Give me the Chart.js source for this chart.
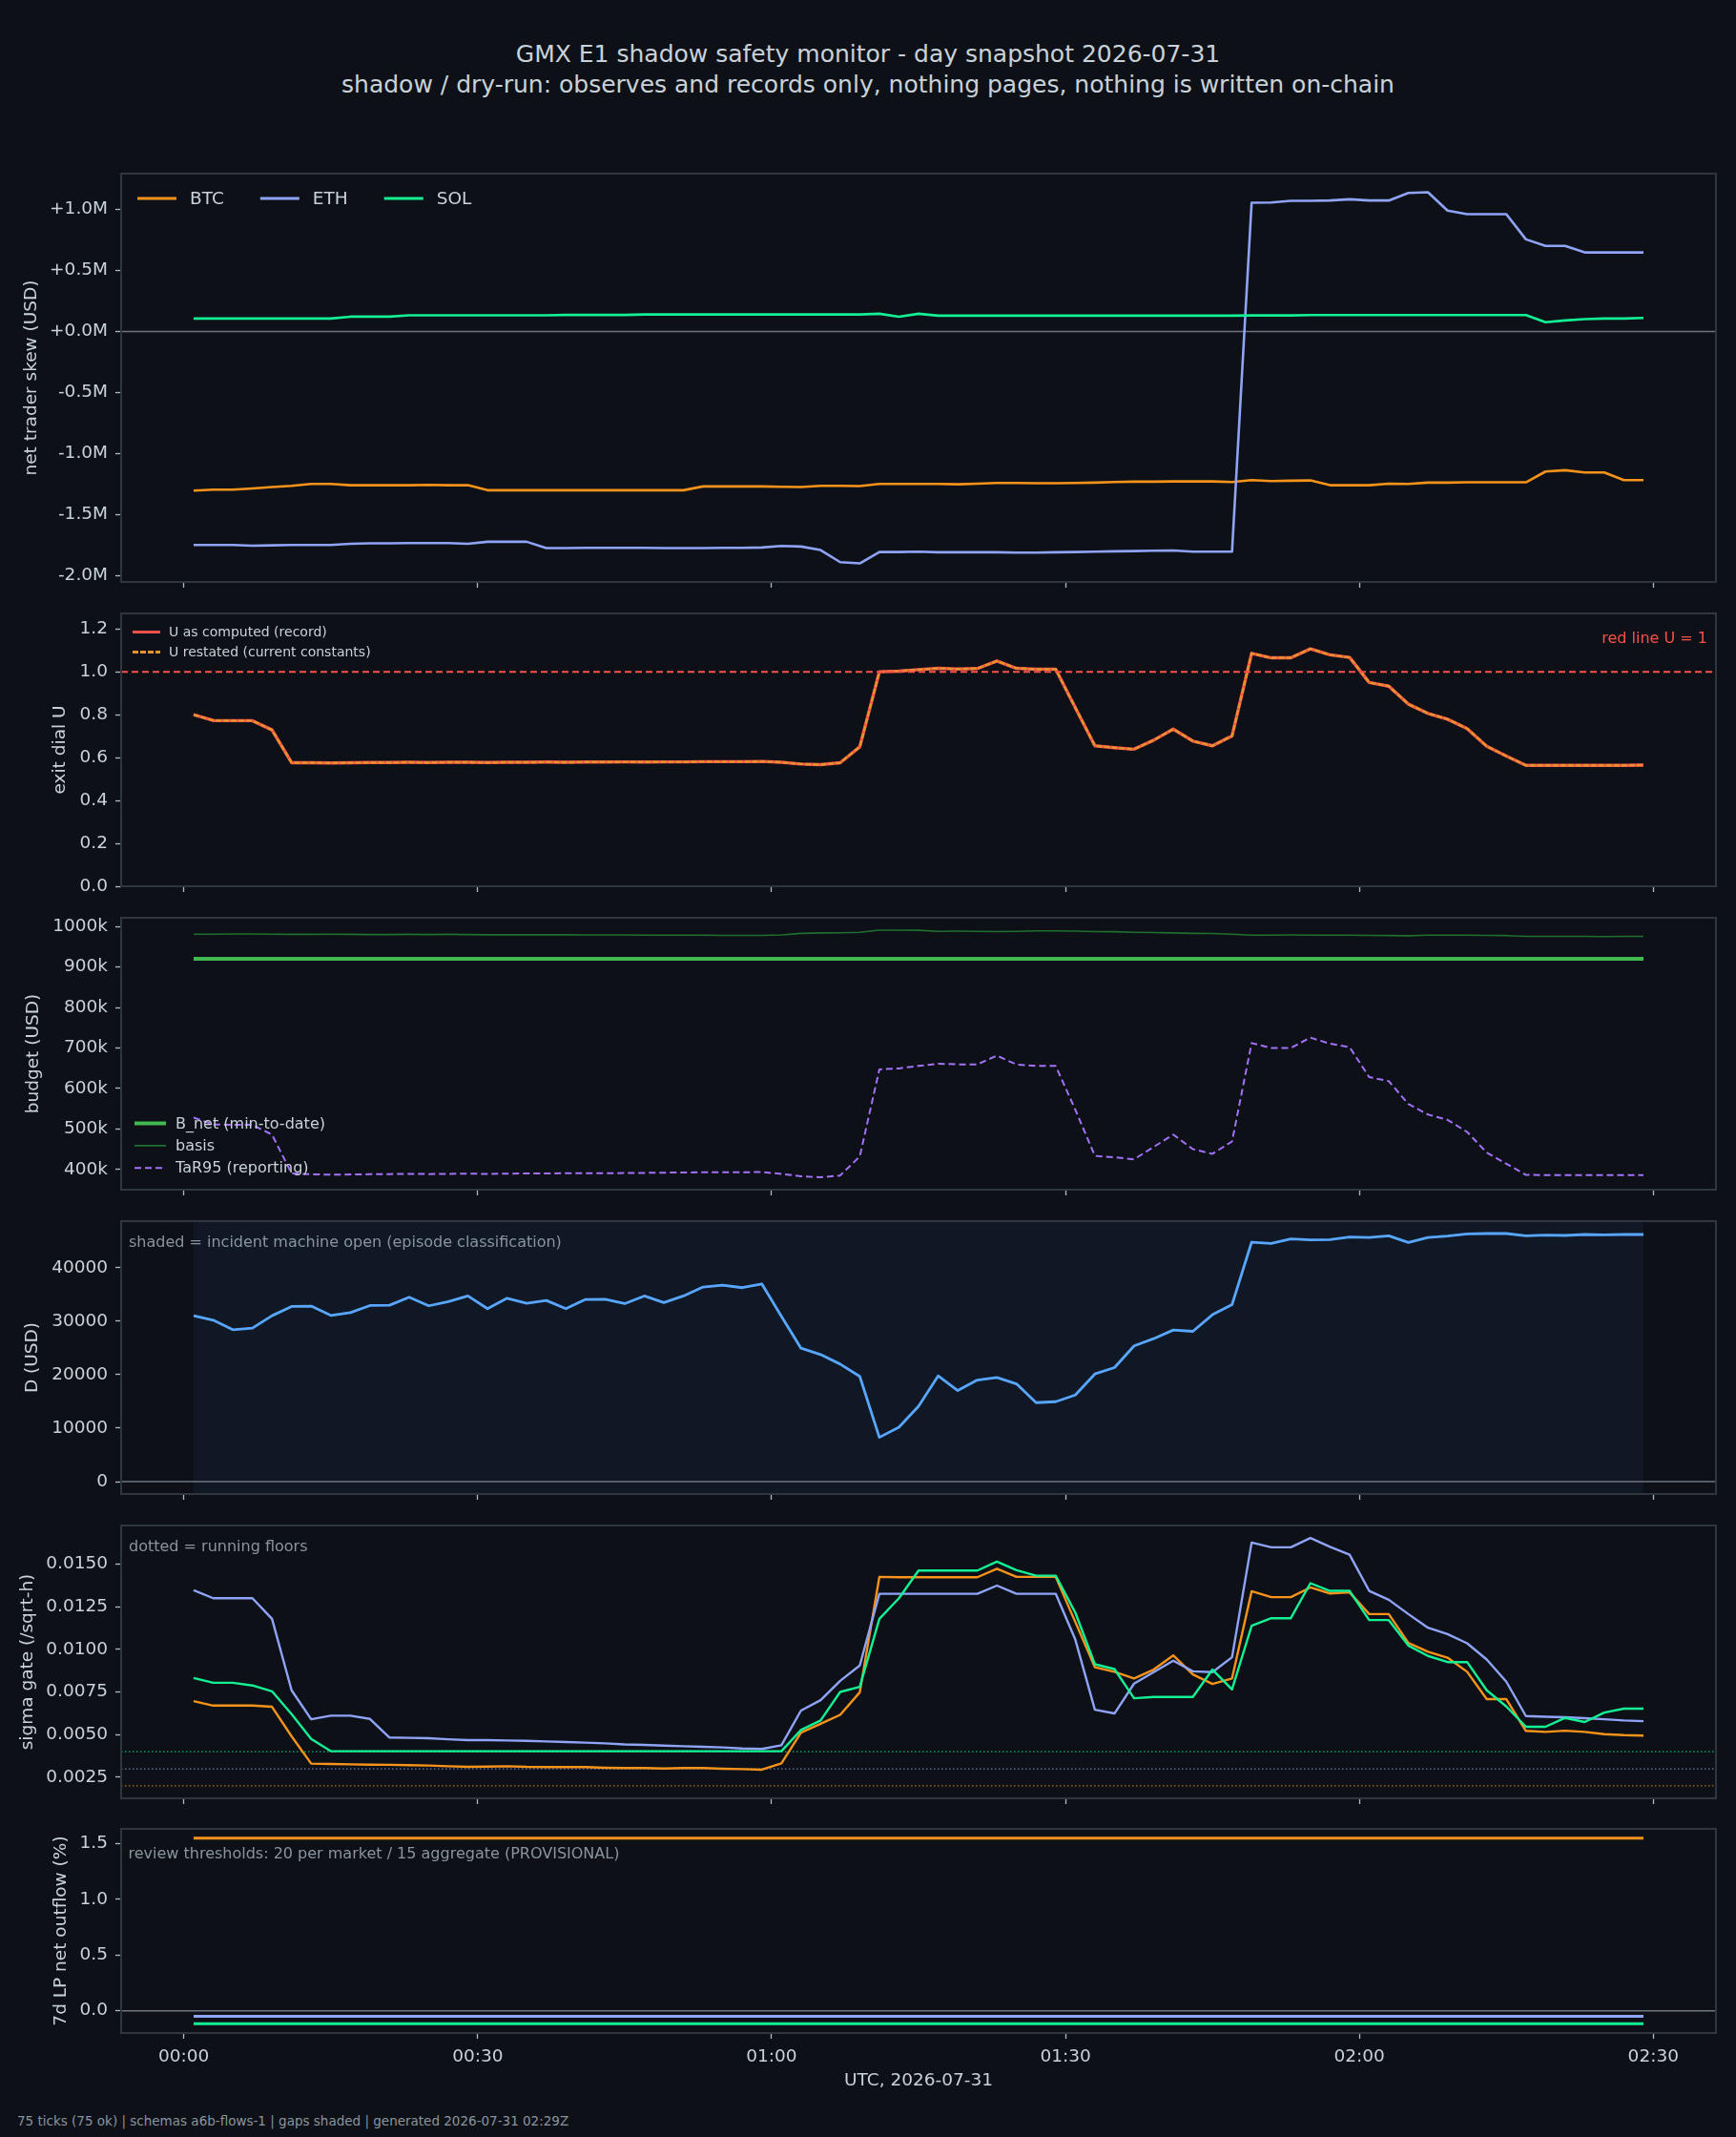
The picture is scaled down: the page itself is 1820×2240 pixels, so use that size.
<!DOCTYPE html>
<html><head><meta charset="utf-8">
<script src="https://cdn.jsdelivr.net/npm/chart.js@4.4.1/dist/chart.umd.min.js"></script>
<style>
html,body{margin:0;padding:0;background:#0d1117;}
#wrap{position:relative;width:1820px;height:2240px;background:#0d1117;overflow:hidden;font-family:"DejaVu Sans",sans-serif;}
canvas{position:absolute;left:0;}
.t{position:absolute;left:0;width:1820px;text-align:center;color:#c9d1d9;font-size:25px;line-height:30px;white-space:nowrap;}
#foot{position:absolute;left:18px;top:2215px;font-size:13.5px;line-height:16px;color:#8b949e;white-space:nowrap;}
</style></head><body>
<div id="wrap">
<div class="t" style="top:42px">GMX E1 shadow safety monitor - day snapshot 2026-07-31</div>
<div class="t" style="top:74px">shadow / dry-run: observes and records only, nothing pages, nothing is written on-chain</div>
<canvas id="c1"></canvas><canvas id="c2"></canvas><canvas id="c3"></canvas>
<canvas id="c4"></canvas><canvas id="c5"></canvas><canvas id="c6"></canvas>
<div id="foot">75 ticks (75 ok) | schemas a6b-flows-1 | gaps shaded | generated 2026-07-31 02:29Z</div>
</div>
<script>
// ---------------- data ----------------
const minutes = [1,3,5,7,9,11,13,15,17,19,21,23,25,27,29,31,33,35,37,39,41,43,45,47,49,51,53,55,57,59,61,63,65,67,69,71,73,75,77,79,81,83,85,87,89,91,93,95,97,99,101,103,105,107,109,111,113,115,117,119,121,123,125,127,129,131,133,135,137,139,141,143,145,147,149];
const xTickValues = [0,30,60,90,120,150];
const xTickLabels = ['00:00','00:30','01:00','01:30','02:00','02:30'];
const marketNames = ['BTC','ETH','SOL'];

// net trader skew, millions USD
const skewBTC = [-1.302,-1.294,-1.294,-1.284,-1.273,-1.263,-1.247,-1.247,-1.258,-1.258,-1.258,-1.258,-1.255,-1.258,-1.258,
 -1.299,-1.299,-1.299,-1.299,-1.299,-1.299,-1.299,-1.299,-1.299,-1.299,-1.299,
 -1.268,-1.268,-1.268,-1.268,-1.271,-1.273,-1.263,-1.263,-1.265,-1.248,-1.247,-1.247,-1.247,-1.25,-1.245,-1.24,-1.24,-1.242,-1.242,-1.24,-1.237,-1.232,-1.229,-1.229,-1.227,-1.227,-1.227,-1.232,-1.216,-1.224,-1.221,-1.219,-1.258,-1.258,-1.258,-1.245,-1.247,-1.237,-1.237,-1.234,-1.234,-1.234,-1.234,-1.146,-1.135,-1.154,-1.154,-1.216,-1.216];
const skewETH = [-1.747,-1.747,-1.747,-1.753,-1.75,-1.747,-1.747,-1.747,-1.737,-1.734,-1.734,-1.732,-1.732,-1.732,-1.737,-1.721,-1.721,-1.721,-1.773,-1.773,-1.771,-1.771,-1.771,-1.771,-1.773,-1.773,-1.773,-1.771,-1.771,-1.768,-1.755,-1.76,-1.789,-1.888,-1.898,-1.805,-1.805,-1.802,-1.807,-1.807,-1.807,-1.807,-1.81,-1.81,-1.807,-1.805,-1.802,-1.799,-1.797,-1.794,-1.792,-1.802,-1.802,-1.802,1.055,1.057,1.07,1.07,1.073,1.083,1.073,1.073,1.135,1.141,0.99,0.961,0.961,0.961,0.755,0.701,0.701,0.648,0.648,0.648,0.648];
const skewSOL = [0.107,0.107,0.107,0.107,0.107,0.107,0.107,0.107,0.122,0.122,0.122,0.133,0.133,0.133,0.133,0.133,0.133,0.133,0.133,0.136,0.136,0.136,0.136,0.14,0.14,0.14,0.14,0.14,0.14,0.14,0.14,0.14,0.14,0.14,0.14,0.146,0.122,0.146,0.13,0.13,0.13,0.13,0.13,0.13,0.13,0.13,0.13,0.13,0.13,0.13,0.13,0.13,0.13,0.13,0.132,0.132,0.132,0.135,0.135,0.135,0.135,0.135,0.135,0.135,0.135,0.135,0.135,0.135,0.135,0.076,0.091,0.102,0.107,0.107,0.112];
const skewTicks = [-2,-1.5,-1,-0.5,0,0.5,1];
const skewTickLabels = ['-2.0M','-1.5M','-1.0M','-0.5M','+0.0M','+0.5M','+1.0M'];

// exit dial U
const uRecord = [0.8,0.773,0.772,0.772,0.729,0.576,0.576,0.575,0.576,0.577,0.577,0.578,0.577,0.578,0.578,0.577,0.578,0.578,0.579,0.578,0.579,0.579,0.58,0.579,0.58,0.58,0.581,0.581,0.581,0.582,0.578,0.57,0.567,0.576,0.65,1.0,1.003,1.01,1.016,1.013,1.015,1.05,1.016,1.012,1.012,0.833,0.655,0.646,0.639,0.681,0.733,0.677,0.655,0.701,1.086,1.065,1.065,1.107,1.079,1.067,0.95,0.933,0.849,0.806,0.779,0.735,0.653,0.607,0.564,0.564,0.564,0.564,0.564,0.564,0.565];
const uRestated = [0.8,0.773,0.772,0.772,0.729,0.576,0.576,0.575,0.576,0.577,0.577,0.578,0.577,0.578,0.578,0.577,0.578,0.578,0.579,0.578,0.579,0.579,0.58,0.579,0.58,0.58,0.581,0.581,0.581,0.582,0.578,0.57,0.567,0.576,0.65,1.0,1.003,1.01,1.016,1.013,1.015,1.05,1.016,1.012,1.012,0.833,0.655,0.646,0.639,0.681,0.733,0.677,0.655,0.701,1.086,1.065,1.065,1.107,1.079,1.067,0.95,0.933,0.849,0.806,0.779,0.735,0.653,0.607,0.564,0.564,0.564,0.564,0.564,0.564,0.565];
const uRedLine = 1.0;
const uTicks = [0,0.2,0.4,0.6,0.8,1.0,1.2];
const uTickLabels = ['0.0','0.2','0.4','0.6','0.8','1.0','1.2'];

// budget, thousands USD
const bNet = [920,920,920,920,920,920,920,920,920,920,920,920,920,920,920,920,920,920,920,920,920,920,920,920,920,920,920,920,920,920,920,920,920,920,920,920,920,920,920,920,920,920,920,920,920,920,920,920,920,920,920,920,920,920,920,920,920,920,920,920,920,920,920,920,920,920,920,920,920,920,920,920,920,920,920];
const basis = [981,981,981.5,981.5,981,980.5,980.5,981,980.5,980,980,980.5,980,980.5,980,979.5,979.5,979.5,979.5,979.5,979,979,979,978.5,978.5,978.5,978.5,978,978,978,979,983,984,984.5,985.5,991,991,990.5,988,988.5,988,987.5,988,989,989,988.5,987.5,987,985.5,985,984,983,982.5,981,978.5,978.5,979,978.5,978.5,978.5,978,977.5,977,978.5,978.5,978.5,978,977.5,975.5,975.5,975.5,975.5,975,975.5,975.5];
const tar95 = [528,511,510,510,486,390,388,387,387.5,388,388.5,389,388.5,389,389.5,389,389.5,390,390,390.5,390.5,390.5,391,391.5,392,392.5,393,393,393,393.5,389,383,380.5,385,432,647,649.5,655.5,661,659.5,659.5,681,659,655.5,655.5,547.5,433.5,430,425,455.5,486,450,438.5,469,712,700,700,725.5,710.5,702,628,618,561.5,535.5,522.5,492.5,441.5,414,386.5,386,386,386,386,386,386];
const budgetTicks = [400,500,600,700,800,900,1000];
const budgetTickLabels = ['400k','500k','600k','700k','800k','900k','1000k'];

// D (USD)
const drawD = [31010,30180,28390,28690,31010,32740,32800,31070,31600,32910,32970,34460,32860,33630,34700,32320,34280,33330,33870,32320,34050,34100,33270,34700,33450,34700,36370,36720,36250,36960,30890,24940,23750,21960,19670,8270,10180,14100,19760,17020,18990,19460,18270,14760,14940,16190,20120,21310,25360,26720,28330,28090,31190,33090,44760,44520,45350,45180,45230,45710,45650,45950,44700,45650,45890,46310,46370,46370,45950,46070,46010,46190,46130,46190,46190];
const incidentOpen = [1,149];
const dTicks = [0,10000,20000,30000,40000];
const dTickLabels = ['0','10000','20000','30000','40000'];

// sigma gate (/sqrt-h)
const sigmaBTC = [0.00696,0.0067,0.0067,0.0067,0.00663,0.0049,0.0033,0.00328,0.00326,0.00324,0.00323,0.00321,0.00319,0.00315,0.00311,0.00313,0.00315,0.00311,0.0031,0.0031,0.0031,0.00306,0.00304,0.00304,0.00302,0.00304,0.00304,0.003,0.00298,0.00295,0.00332,0.00512,0.00564,0.00616,0.00748,0.01424,0.01422,0.01422,0.01422,0.01422,0.01422,0.01472,0.01424,0.01424,0.01424,0.0116,0.00895,0.00868,0.00829,0.00881,0.00964,0.00853,0.00797,0.00829,0.0134,0.01305,0.01305,0.01362,0.01327,0.01333,0.01206,0.01206,0.01037,0.00985,0.00951,0.00868,0.00708,0.00708,0.00522,0.00516,0.00523,0.00516,0.00503,0.00497,0.00494];
const sigmaETH = [0.01346,0.01299,0.01299,0.01299,0.01178,0.0076,0.0059,0.00611,0.00611,0.00592,0.00483,0.00481,0.00479,0.00473,0.00468,0.00468,0.00466,0.00464,0.0046,0.00457,0.00453,0.00449,0.00443,0.0044,0.00436,0.00432,0.00429,0.00425,0.00419,0.00416,0.00438,0.00641,0.00702,0.00815,0.00905,0.01325,0.01325,0.01325,0.01325,0.01325,0.01325,0.01373,0.01325,0.01325,0.01325,0.01057,0.00646,0.00624,0.00799,0.00866,0.00933,0.00871,0.00866,0.00953,0.01625,0.01597,0.01597,0.01652,0.016,0.01554,0.01342,0.0129,0.01206,0.01126,0.01089,0.01035,0.0094,0.0081,0.00609,0.00605,0.00602,0.00596,0.0059,0.00583,0.00579];
const sigmaSOL = [0.00832,0.00804,0.00804,0.00788,0.00754,0.0062,0.00475,0.00403,0.00403,0.00403,0.00403,0.00403,0.00403,0.00403,0.00403,0.00403,0.00403,0.00403,0.00403,0.00403,0.00403,0.00403,0.00403,0.00403,0.00403,0.00403,0.00403,0.00403,0.00403,0.00403,0.00403,0.00527,0.00583,0.0075,0.0078,0.01178,0.01299,0.01461,0.01461,0.01461,0.01461,0.01513,0.01463,0.01431,0.01431,0.01215,0.00912,0.00884,0.00713,0.00721,0.00721,0.00721,0.00881,0.00765,0.01137,0.01182,0.01182,0.01387,0.01342,0.01342,0.01171,0.01171,0.01022,0.00961,0.00925,0.00925,0.0076,0.00665,0.00546,0.00546,0.00598,0.00574,0.00629,0.00652,0.00652];
const sigmaFloors = [0.002,0.003,0.004]; // BTC, ETH, SOL
const sigmaTicks = [0.0025,0.005,0.0075,0.01,0.0125,0.015];
const sigmaTickLabels = ['0.0025','0.0050','0.0075','0.0100','0.0125','0.0150'];

// 7d LP net outflow (%)
const outflowBTC = [1.551,1.551,1.551,1.551,1.551,1.551,1.551,1.551,1.551,1.551,1.551,1.551,1.551,1.551,1.551,1.551,1.551,1.551,1.551,1.551,1.551,1.551,1.551,1.551,1.551,1.551,1.551,1.551,1.551,1.551,1.551,1.551,1.551,1.551,1.551,1.551,1.551,1.551,1.551,1.551,1.551,1.551,1.551,1.551,1.551,1.551,1.551,1.551,1.551,1.551,1.551,1.551,1.551,1.551,1.551,1.551,1.551,1.551,1.551,1.551,1.551,1.551,1.551,1.551,1.551,1.551,1.551,1.551,1.551,1.551,1.551,1.551,1.551,1.551,1.551];
const outflowETH = [-0.049,-0.049,-0.049,-0.049,-0.049,-0.049,-0.049,-0.049,-0.049,-0.049,-0.049,-0.049,-0.049,-0.049,-0.049,-0.049,-0.049,-0.049,-0.049,-0.049,-0.049,-0.049,-0.049,-0.049,-0.049,-0.049,-0.049,-0.049,-0.049,-0.049,-0.049,-0.049,-0.049,-0.049,-0.049,-0.049,-0.049,-0.049,-0.049,-0.049,-0.049,-0.049,-0.049,-0.049,-0.049,-0.049,-0.049,-0.049,-0.049,-0.049,-0.049,-0.049,-0.049,-0.049,-0.049,-0.049,-0.049,-0.049,-0.049,-0.049,-0.049,-0.049,-0.049,-0.049,-0.049,-0.049,-0.049,-0.049,-0.049,-0.049,-0.049,-0.049,-0.049,-0.049,-0.049];
const outflowSOL = [-0.117,-0.117,-0.117,-0.117,-0.117,-0.117,-0.117,-0.117,-0.117,-0.117,-0.117,-0.117,-0.117,-0.117,-0.117,-0.117,-0.117,-0.117,-0.117,-0.117,-0.117,-0.117,-0.117,-0.117,-0.117,-0.117,-0.117,-0.117,-0.117,-0.117,-0.117,-0.117,-0.117,-0.117,-0.117,-0.117,-0.117,-0.117,-0.117,-0.117,-0.117,-0.117,-0.117,-0.117,-0.117,-0.117,-0.117,-0.117,-0.117,-0.117,-0.117,-0.117,-0.117,-0.117,-0.117,-0.117,-0.117,-0.117,-0.117,-0.117,-0.117,-0.117,-0.117,-0.117,-0.117,-0.117,-0.117,-0.117,-0.117,-0.117,-0.117,-0.117,-0.117,-0.117,-0.117];
const outflowTicks = [0,0.5,1.0,1.5];
const outflowTickLabels = ['0.0','0.5','1.0','1.5'];

// ---------------- style ----------------
const FONT = '"DejaVu Sans", sans-serif';
const TXT = '#c9d1d9', MUTED = '#8b949e', TICK = '#b1bac4', SPINE = '#30363d', AXBG = '#0d1117', ZERO = '#6e7681';
const C_BTC = '#f7931a', C_ETH = '#8fa3f7', C_SOL = '#14f195';
Chart.defaults.font.family = FONT;
Chart.defaults.font.size = 18.5;
Chart.defaults.color = TXT;

const pts = ys => minutes.map((m, i) => ({x: m, y: ys[i]}));

const decor = {
  id: 'decor',
  beforeDraw(chart, _a, o) {
    const {ctx, chartArea: a} = chart;
    ctx.save();
    ctx.fillStyle = AXBG;
    ctx.fillRect(a.left, a.top, a.width, a.height);
    if (o.shade) {
      const x0 = chart.scales.x.getPixelForValue(o.shade[0]);
      const x1 = chart.scales.x.getPixelForValue(o.shade[1]);
      ctx.fillStyle = o.shadeColor;
      ctx.fillRect(x0, a.top, x1 - x0, a.height);
    }
    (o.hlines || []).forEach(h => {
      const y = chart.scales.y.getPixelForValue(h.value);
      ctx.strokeStyle = h.color; ctx.lineWidth = h.width;
      ctx.setLineDash(h.dash || []);
      ctx.beginPath(); ctx.moveTo(a.left, y); ctx.lineTo(a.right, y); ctx.stroke();
    });
    ctx.restore();
  },
  afterDatasetsDraw(chart, _a, o) {
    const {ctx, chartArea: a} = chart;
    ctx.save();
    (o.hlinesOver || []).forEach(h => {
      const y = chart.scales.y.getPixelForValue(h.value);
      ctx.strokeStyle = h.color; ctx.lineWidth = h.width;
      ctx.setLineDash(h.dash || []);
      ctx.beginPath(); ctx.moveTo(a.left, y); ctx.lineTo(a.right, y); ctx.stroke();
    });
    ctx.setLineDash([]);
    ctx.strokeStyle = SPINE; ctx.lineWidth = 2;
    ctx.strokeRect(a.left, a.top, a.width, a.height);
    // legend
    if (o.legend) {
      const L = o.legend;
      ctx.font = L.size + 'px ' + FONT;
      ctx.textBaseline = 'middle'; ctx.textAlign = 'left';
      let x = a.left + L.dx, y = a.top + L.dy;
      L.items.forEach(idx => {
        const ds = chart.data.datasets[idx];
        ctx.strokeStyle = ds.borderColor; ctx.lineWidth = L.lw || ds.borderWidth;
        ctx.setLineDash(ds.borderDash || []);
        ctx.beginPath(); ctx.moveTo(x, y); ctx.lineTo(x + L.lineLen, y); ctx.stroke();
        ctx.setLineDash([]);
        ctx.fillStyle = TXT;
        ctx.fillText(ds.label, x + L.textGap, y + 1);
        if (L.dir === 'h') { x += L.textGap + ctx.measureText(ds.label).width + L.colGap; }
        else { y += L.rowGap; }
      });
    }
    (o.notes || []).forEach(n => {
      ctx.font = n.size + 'px ' + FONT;
      ctx.fillStyle = n.color; ctx.textBaseline = 'middle';
      if (n.right) { ctx.textAlign = 'right'; ctx.fillText(n.text, a.right + n.dx, a.top + n.dy); }
      else { ctx.textAlign = 'left'; ctx.fillText(n.text, a.left + n.dx, a.top + n.dy); }
    });
    ctx.restore();
  }
};

function line(label, data, color, width, dash) {
  return {label, data: pts(data), borderColor: color, backgroundColor: color, borderWidth: width,
    borderDash: dash || [], pointRadius: 0, tension: 0, fill: false, borderJoinStyle: 'round', borderCapStyle: 'butt'};
}

function makePanel(id, rect, cfg) {
  const padTop = 24;
  const xh = cfg.xh || 24;
  const cv = document.getElementById(id);
  const h = rect[1] - rect[0] + padTop + xh;
  cv.width = 1820; cv.height = h;
  cv.style.top = (rect[0] - padTop) + 'px';
  cv.style.width = '1820px'; cv.style.height = h + 'px';
  // later datasets drawn on top (as in the source plot)
  cfg.datasets.forEach((d, i) => { d.order = -i; });
  return new Chart(cv, {
    type: 'line',
    data: {datasets: cfg.datasets},
    options: {
      responsive: false, animation: false, devicePixelRatio: 1,
      layout: {padding: {top: padTop, left: 0, right: 21, bottom: 0}},
      plugins: {legend: {display: false}, tooltip: {enabled: false}, decor: cfg.decor || {}},
      scales: {
        x: {
          type: 'linear', min: -6.4, max: 156.4,
          afterBuildTicks: s => { s.ticks = xTickValues.map(v => ({value: v})); },
          afterFit: s => { s.height = xh; },
          ticks: {display: !!cfg.xLabels, callback: (v, i) => xTickLabels[i], padding: 8, color: TXT, maxRotation: 0, autoSkip: false, font: {size: 18.5}},
          grid: {display: true, drawOnChartArea: false, drawTicks: true, tickLength: 6, tickColor: TICK, tickWidth: 1.3},
          border: {display: false},
          title: cfg.xLabels ? {display: true, text: 'UTC, 2026-07-31', color: TXT, font: {size: 18.5}, padding: {top: 0, bottom: 9}} : {display: false}
        },
        y: {
          type: 'linear', min: cfg.yMin, max: cfg.yMax,
          afterBuildTicks: s => { s.ticks = cfg.yTicks.map(v => ({value: v})); },
          afterFit: s => { s.width = 127; },
          ticks: {callback: (v, i) => cfg.yLabels[i], padding: 8, color: TXT, autoSkip: false, font: {size: 18.5}},
          grid: {display: true, drawOnChartArea: false, drawTicks: true, tickLength: 6, tickColor: TICK, tickWidth: 1.3},
          border: {display: false},
          title: {display: true, text: cfg.yTitle, color: TXT, font: {size: 18.5}, padding: {top: cfg.yTitlePad, bottom: 0}}
        }
      }
    },
    plugins: [decor]
  });
}

// Panel 1: skew
makePanel('c1', [182, 610], {
  yMin: -2.05, yMax: 1.293, yTicks: skewTicks, yLabels: skewTickLabels,
  yTitle: 'net trader skew (USD)', yTitlePad: 22,
  datasets: [line(marketNames[0], skewBTC, C_BTC, 2.6), line(marketNames[1], skewETH, C_ETH, 2.6), line(marketNames[2], skewSOL, C_SOL, 2.6)],
  decor: {hlines: [{value: 0, color: ZERO, width: 1.5}],
    legend: {dir: 'h', dx: 17, dy: 26, size: 18.5, lineLen: 41, textGap: 55, colGap: 38, lw: 3, items: [0, 1, 2]}}
});

// Panel 2: exit dial U
makePanel('c2', [643, 929], {
  yMin: 0, yMax: 1.272, yTicks: uTicks, yLabels: uTickLabels,
  yTitle: 'exit dial U', yTitlePad: 52,
  datasets: [line('U as computed (record)', uRecord, '#f85149', 3.4), line('U restated (current constants)', uRestated, '#e3952b', 2.4, [6, 2])],
  decor: {hlinesOver: [{value: uRedLine, color: '#f85149', width: 2, dash: [7, 4]}],
    legend: {dir: 'v', dx: 12, dy: 19.5, size: 14, lineLen: 29, textGap: 38, rowGap: 21, lw: 3, items: [0, 1]},
    notes: [{text: 'red line U = 1', right: true, dx: -9, dy: 27, size: 16, color: '#f85149'}]}
});

// Panel 3: budget
makePanel('c3', [962, 1247], {
  yMin: 350, yMax: 1021.5, yTicks: budgetTicks, yLabels: budgetTickLabels,
  yTitle: 'budget (USD)', yTitlePad: 24,
  datasets: [line('B_net (min-to-date)', bNet, '#3fb950', 4), line('basis', basis, '#1f6f2e', 1.6), line('TaR95 (reporting)', tar95, '#a371f7', 2, [7, 4])],
  decor: {legend: {dir: 'v', dx: 14, dy: 215.5, size: 16, lineLen: 33, textGap: 43, rowGap: 23.4, items: [0, 1, 2]}}
});

// Panel 4: D
makePanel('c4', [1280, 1566], {
  yMin: -2318, yMax: 48688, yTicks: dTicks, yLabels: dTickLabels,
  yTitle: 'D (USD)', yTitlePad: 23,
  datasets: [line('D', drawD, '#58a6ff', 2.8)],
  decor: {shade: incidentOpen, shadeColor: 'rgba(56,139,253,0.06)', hlines: [{value: 0, color: ZERO, width: 1.5}],
    notes: [{text: 'shaded = incident machine open (episode classification)', dx: 8, dy: 23.3, size: 16, color: MUTED}]}
});

// Panel 5: sigma gate
makePanel('c5', [1599, 1885], {
  yMin: 0.00127, yMax: 0.01725, yTicks: sigmaTicks, yLabels: sigmaTickLabels,
  yTitle: 'sigma gate (/sqrt-h)', yTitlePad: 18,
  datasets: [line(marketNames[0], sigmaBTC, C_BTC, 2.4), line(marketNames[1], sigmaETH, C_ETH, 2.4), line(marketNames[2], sigmaSOL, C_SOL, 2.4)],
  decor: {hlines: [
      {value: sigmaFloors[0], color: 'rgba(247,147,26,0.75)', width: 1.3, dash: [1.5, 2.5]},
      {value: sigmaFloors[1], color: 'rgba(143,163,247,0.75)', width: 1.3, dash: [1.5, 2.5]},
      {value: sigmaFloors[2], color: 'rgba(20,241,149,0.75)', width: 1.3, dash: [1.5, 2.5]}],
    notes: [{text: 'dotted = running floors', dx: 8, dy: 23.3, size: 16, color: MUTED}]}
});

// Panel 6: LP outflow
makePanel('c6', [1917, 2131], {
  xh: 70, xLabels: true,
  yMin: -0.2, yMax: 1.634, yTicks: outflowTicks, yLabels: outflowTickLabels,
  yTitle: '7d LP net outflow (%)', yTitlePad: 53,
  datasets: [line(marketNames[0], outflowBTC, C_BTC, 3), line(marketNames[1], outflowETH, C_ETH, 3), line(marketNames[2], outflowSOL, C_SOL, 3)],
  decor: {hlines: [{value: 0, color: ZERO, width: 1.5}],
    notes: [{text: 'review thresholds: 20 per market / 15 aggregate (PROVISIONAL)', dx: 7.5, dy: 27, size: 16, color: MUTED}]}
});
</script>
</body></html>
